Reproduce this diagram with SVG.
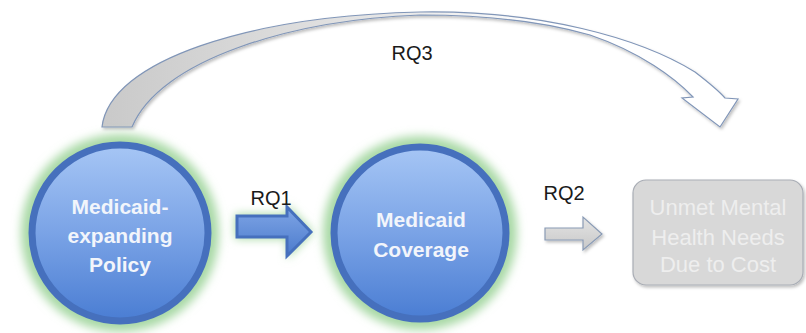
<svg xmlns="http://www.w3.org/2000/svg" width="806" height="333" viewBox="0 0 806 333">
<style>
.lbl{font-family:"Liberation Sans",Arial,sans-serif;font-size:20px;fill:#1a1a1a;text-anchor:middle}
.ctext{font-family:"Liberation Sans",Arial,sans-serif;font-size:21px;font-weight:bold;fill:#f2f5fb;text-anchor:middle}
.btext{font-family:"Liberation Sans",Arial,sans-serif;font-size:22px;fill:#eeeeee;text-anchor:middle}
.circ{fill:url(#blueGrad);stroke:#4670bd;stroke-width:7}
.glow{fill:#a9d9a6;filter:url(#blur)}
</style>
<defs>
<linearGradient id="blueGrad" x1="0" y1="0" x2="0" y2="1">
<stop offset="0" stop-color="#a6c6f5"/>
<stop offset="0.5" stop-color="#7aa3e6"/>
<stop offset="1" stop-color="#4a7dd3"/>
</linearGradient>
<linearGradient id="arrowBlue" x1="0" y1="0" x2="0" y2="1">
<stop offset="0" stop-color="#7fa5e6"/>
<stop offset="1" stop-color="#4b7bcc"/>
</linearGradient>
<linearGradient id="curveGrad" x1="100" y1="0" x2="740" y2="0" gradientUnits="userSpaceOnUse">
<stop offset="0" stop-color="#c9c9c9"/>
<stop offset="0.45" stop-color="#e6e6e6"/>
<stop offset="0.7" stop-color="#ffffff"/>
<stop offset="1" stop-color="#ffffff"/>
</linearGradient>
<linearGradient id="grayArrow" x1="0" y1="0" x2="0" y2="1">
<stop offset="0" stop-color="#e4e4e4"/>
<stop offset="1" stop-color="#c8c8c8"/>
</linearGradient>
<filter id="blur" x="-30%" y="-30%" width="160%" height="160%">
<feGaussianBlur stdDeviation="5"/>
</filter>
<filter id="shadow" x="-10%" y="-10%" width="130%" height="130%">
<feDropShadow dx="1.5" dy="2" stdDeviation="1.5" flood-color="#000" flood-opacity="0.25"/>
</filter>
</defs>
<rect width="806" height="333" fill="#ffffff"/>

<g id="connectors">
<g id="rq3-arrow">
<path d="M102,127 C110,60 250,16 420,12 C540,10 640,38 695,72 C708,82 718,90 725,98 L738,99 L720,127 L682,98 L693,97 C675,78 640,52 590,35 C530,18 470,15 420,15 C290,20 160,60 132,127 Z" fill="url(#curveGrad)" stroke="#8196b8" stroke-width="1.2" filter="url(#shadow)"/>
</g>
<g id="rq1-arrow">
<path d="M235,214 L287,214 L287,204 L313,232 L287,259 L287,239 L235,239 Z" fill="#a9d9a6" filter="url(#blur)"/>
<path d="M237,216 L287,216 L287,207 L311,232 L287,256 L287,237 L237,237 Z" fill="url(#arrowBlue)" stroke="#4670bd" stroke-width="3"/>
</g>
<g id="rq2-arrow">
<path d="M545,228 L583,228 L583,217 L602,234 L583,250 L583,240 L545,240 Z" fill="url(#grayArrow)" stroke="#8a9bb5" stroke-width="1.2" filter="url(#shadow)"/>
</g>
<text class="lbl" x="271" y="205">RQ1</text>
<text class="lbl" x="564" y="200">RQ2</text>
<text class="lbl" x="412" y="60">RQ3</text>
</g>

<g id="node-policy">
<circle class="glow" cx="120" cy="233" r="99"/>
<circle class="circ" cx="120" cy="233" r="88"/>
<text class="ctext" x="120" y="214">Medicaid-</text>
<text class="ctext" x="120" y="243">expanding</text>
<text class="ctext" x="120" y="272">Policy</text>
</g>

<g id="node-coverage">
<circle class="glow" cx="420" cy="233" r="97"/>
<circle class="circ" cx="420" cy="233" r="86"/>
<text class="ctext" x="421" y="227">Medicaid</text>
<text class="ctext" x="421" y="257">Coverage</text>
</g>

<g id="node-unmet">
<rect x="633" y="180" width="170" height="105" rx="13" ry="13" fill="#d8d8d8" stroke="#a9adb5" stroke-width="1.2" filter="url(#shadow)"/>
<text class="btext" x="718" y="215">Unmet Mental</text>
<text class="btext" x="718" y="245">Health Needs</text>
<text class="btext" x="718" y="272">Due to Cost</text>
</g>
</svg>
